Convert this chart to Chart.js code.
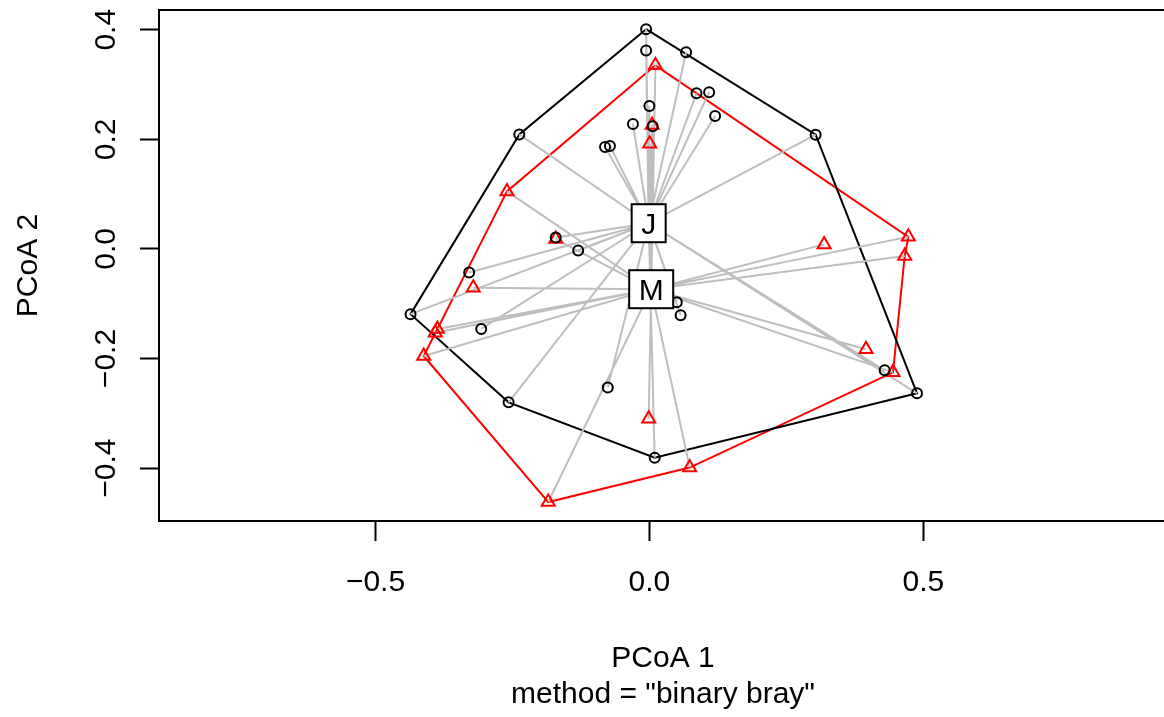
<!DOCTYPE html>
<html>
<head>
<meta charset="utf-8">
<title>PCoA – binary bray</title>
<script src="https://cdn.jsdelivr.net/npm/chart.js@4.4.0/dist/chart.umd.min.js"></script>
<style>
  html, body { margin: 0; padding: 0; background: #fff; overflow: hidden; }
  #wrap { width: 1164px; height: 717px; }
  canvas { display: block; }
</style>
</head>
<body>
<div id="wrap"><canvas id="pcoa" width="1164" height="717"></canvas></div>
<script>
// sites of group J (circles)
const jX = [-0.006, -0.006, 0.067, 0.086, 0.109, 0.000, 0.120, -0.030, 0.006, -0.081,
            -0.072, -0.2375, -0.130, -0.171, -0.329, -0.436, -0.307, 0.050, 0.057, -0.076,
            -0.257, 0.0097, 0.3035, 0.4295, 0.4885];
const jY = [0.401, 0.362, 0.359, 0.284, 0.286, 0.261, 0.2425, 0.228, 0.224, 0.186,
            0.188, 0.209, -0.003, 0.021, -0.043, -0.119, -0.146, -0.0975, -0.121, -0.253,
            -0.280, -0.381, 0.2085, -0.2215, -0.2635];

// sites of group M (triangles)
const mX = [0.011, 0.005, 0.0005, -0.260, -0.171, 0.4727, 0.319, 0.466, 0.3954, 0.4447,
            -0.3215, -0.387, -0.391, -0.412, -0.0013, 0.0736, -0.1846];
const mY = [0.335, 0.226, 0.192, 0.105, 0.018, 0.022, 0.0083, -0.013, -0.183, -0.2252,
            -0.0708, -0.146, -0.153, -0.1954, -0.3098, -0.399, -0.4619];

// group centroids
const groupNames = ["J", "M"];
const centroidX = [-0.0013, 0.0033];
const centroidY = [0.0469, -0.0735];

// convex hull vertex order (indices into the site lists)
const jHull = [0, 22, 24, 21, 20, 15, 11, 0];
const mHull = [0, 5, 7, 9, 15, 16, 13, 3, 0];

// axes (the plot box runs a little past the right edge of the canvas)
const xTicks = [-0.5, 0, 0.5];
const yTicks = [-0.4, -0.2, 0, 0.2, 0.4];
const xLimits = [-0.8952, 0.9394];
const yLimits = [-0.4965, 0.436];
const xTitle = "PCoA 1";
const yTitle = "PCoA 2";
const subTitle = 'method = "binary bray"';

const FONT = '30px "Liberation Sans", Arial, sans-serif';
const fmt = v => v.toFixed(1).replace("-", "\u2212");

const toPts = (xs, ys) => xs.map((v, i) => ({ x: v, y: ys[i] }));
const hullPts = (xs, ys, order) => order.map(i => ({ x: xs[i], y: ys[i] }));

// one segment per site to its group centroid, broken by empty points
function spokes(xs, ys, k) {
  const out = [];
  xs.forEach((v, i) => {
    out.push({ x: v, y: ys[i] }, { x: centroidX[k], y: centroidY[k] }, { x: null, y: null });
  });
  return out;
}

// frame, R-style axis text and the centroid labels
const baseGraphics = {
  id: "baseGraphics",
  afterDatasetsDraw(chart) {
    const { ctx, chartArea: a, scales: { x, y } } = chart;
    ctx.save();
    ctx.font = FONT;
    ctx.lineWidth = 2;
    ctx.strokeStyle = "#000";

    groupNames.forEach((name, i) => {
      const px = x.getPixelForValue(centroidX[i]);
      const py = y.getPixelForValue(centroidY[i]);
      const w = ctx.measureText(name).width + 19;
      const h = 38;
      ctx.fillStyle = "#fff";
      ctx.fillRect(px - w / 2, py - h / 2, w, h);
      ctx.strokeRect(px - w / 2, py - h / 2, w, h);
      ctx.fillStyle = "#000";
      ctx.textAlign = "center";
      ctx.textBaseline = "alphabetic";
      ctx.fillText(name, px, py + 10.5);
    });

    // left, top and bottom sides of the box
    ctx.beginPath();
    ctx.moveTo(a.right + 4, a.top);
    ctx.lineTo(a.left, a.top);
    ctx.lineTo(a.left, a.bottom);
    ctx.lineTo(a.right + 4, a.bottom);
    ctx.stroke();

    ctx.fillStyle = "#000";
    ctx.textAlign = "center";
    ctx.textBaseline = "alphabetic";
    xTicks.forEach(v => ctx.fillText(fmt(v), x.getPixelForValue(v), a.bottom + 70));

    const cx = (a.left + a.right + 3) / 2;
    ctx.fillText(xTitle, cx, a.bottom + 146);
    ctx.fillText(subTitle, cx, a.bottom + 182);

    yTicks.forEach(v => {
      ctx.save();
      ctx.translate(a.left - 44, y.getPixelForValue(v));
      ctx.rotate(-Math.PI / 2);
      ctx.fillText(fmt(v), 0, 0);
      ctx.restore();
    });
    ctx.save();
    ctx.translate(37, (a.top + a.bottom) / 2);
    ctx.rotate(-Math.PI / 2);
    ctx.fillText(yTitle, 0, 0);
    ctx.restore();

    ctx.restore();
  }
};

new Chart(document.getElementById("pcoa"), {
  type: "scatter",
  data: {
    datasets: [
      {
        label: "J",
        data: toPts(jX, jY),
        order: 0,
        pointStyle: "circle",
        pointRadius: 5,
        pointBorderWidth: 2,
        pointBorderColor: "#000000",
        pointBackgroundColor: "rgba(0,0,0,0)"
      },
      {
        label: "M",
        data: toPts(mX, mY),
        order: 0,
        pointStyle: "triangle",
        pointRadius: 7.5,
        pointBorderWidth: 2,
        pointBorderColor: "#ff0000",
        pointBackgroundColor: "rgba(0,0,0,0)"
      },
      {
        label: "spokes",
        data: spokes(jX, jY, 0).concat(spokes(mX, mY, 1)),
        order: 1,
        showLine: true,
        spanGaps: false,
        borderColor: "#bebebe",
        borderWidth: 2,
        pointRadius: 0
      },
      {
        label: "J hull",
        data: hullPts(jX, jY, jHull),
        order: 2,
        showLine: true,
        borderColor: "#000000",
        borderWidth: 2,
        pointRadius: 0
      },
      {
        label: "M hull",
        data: hullPts(mX, mY, mHull),
        order: 2,
        showLine: true,
        borderColor: "#ff0000",
        borderWidth: 2,
        pointRadius: 0
      }
    ]
  },
  options: {
    responsive: false,
    animation: false,
    devicePixelRatio: 1,
    events: [],
    layout: { autoPadding: false, padding: { top: 10, right: 0, left: 0, bottom: 0 } },
    plugins: { legend: { display: false }, tooltip: { enabled: false } },
    scales: {
      x: {
        type: "linear",
        position: "bottom",
        min: xLimits[0],
        max: xLimits[1],
        afterBuildTicks: s => { s.ticks = xTicks.map(v => ({ value: v })); },
        afterFit: s => { s.height = 196; },
        ticks: { display: false },
        border: { display: false },
        grid: { drawOnChartArea: false, drawTicks: true, tickLength: 20, tickColor: "#000", tickWidth: 2 }
      },
      y: {
        type: "linear",
        position: "left",
        min: yLimits[0],
        max: yLimits[1],
        afterBuildTicks: s => { s.ticks = yTicks.map(v => ({ value: v })); },
        afterFit: s => { s.width = 159; },
        ticks: { display: false },
        border: { display: false },
        grid: { drawOnChartArea: false, drawTicks: true, tickLength: 19, tickColor: "#000", tickWidth: 2 }
      }
    }
  },
  plugins: [baseGraphics]
});
</script>
</body>
</html>
